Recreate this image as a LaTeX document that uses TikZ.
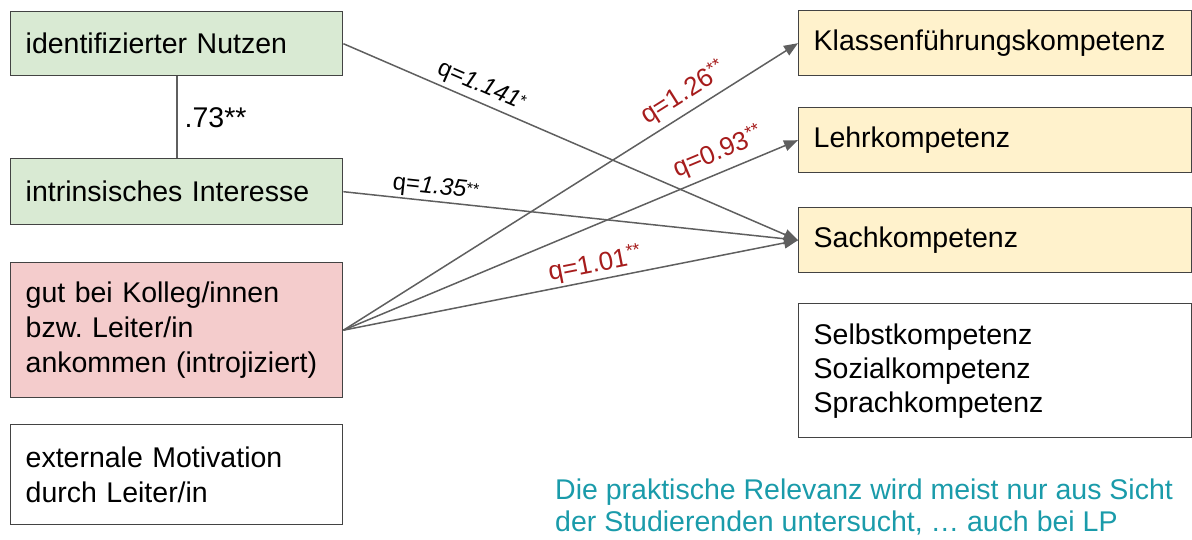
\documentclass[tikz,border=0pt]{standalone}
\usepackage{fontspec}
\setmainfont{Liberation Sans}
\usetikzlibrary{arrows.meta}
\frenchspacing
\definecolor{boxgreen}{HTML}{D9EAD3}
\definecolor{boxpink}{HTML}{F4CCCC}
\definecolor{boxyellow}{HTML}{FFF2CC}
\definecolor{bordergray}{HTML}{434343}
\definecolor{arrowgray}{HTML}{5F5F5F}
\definecolor{labelred}{HTML}{A61C1C}
\definecolor{noteteal}{HTML}{1A9BAA}
\newcommand{\rstars}[1]{\raisebox{0.3em}{\fontsize{18}{18}\selectfont #1}}
\newcommand{\bstars}[1]{\raisebox{0.15em}{\fontsize{16}{16}\selectfont #1}}
\tikzset{
  x=1pt, y=-1pt,
  leftbox/.style={draw=bordergray, line width=1.4pt, rectangle, anchor=north west,
    minimum width=332pt, text width=302pt, inner xsep=15pt, inner ysep=0pt,
    align=left, font=\fontsize{28.5}{35}\selectfont},
  rightbox/.style={draw=bordergray, line width=1.4pt, rectangle, anchor=north west,
    minimum width=393pt, text width=363pt, inner xsep=15pt, inner ysep=0pt,
    align=left, font=\fontsize{28.5}{34}\selectfont},
  conn/.style={draw=arrowgray, line width=1.5pt, -{Triangle[length=14pt,width=11pt]}},
  blacklab/.style={sloped, inner sep=0pt, font=\fontsize{24}{24}\selectfont, text=black},
  redlab/.style={sloped, inner sep=0pt, font=\fontsize{26}{26}\selectfont, text=labelred},
}
\begin{document}
\begin{tikzpicture}
\useasboundingbox (0,0) rectangle (1192,539);
% left column
\node[leftbox, fill=boxgreen, minimum height=64pt] (nutz) at (10,11) {identifizierter Nutzen};
\node[leftbox, fill=boxgreen, minimum height=66pt] (intr) at (10,158) {intrinsisches Interesse};
\node[leftbox, fill=boxpink, minimum height=135pt] (koll) at (10,262) {gut bei Kolleg/innen\\bzw. Leiter/in\\ankommen (introjiziert)};
\node[leftbox, fill=white, minimum height=100pt] (ext) at (10,424) {externale Motivation\\durch Leiter/in};
% right column
\node[rightbox, fill=boxyellow, minimum height=65pt] (klass) at (798,10) {Klassenführungskompetenz};
\node[rightbox, fill=boxyellow, minimum height=65pt] (lehr) at (798,107) {Lehrkompetenz};
\node[rightbox, fill=boxyellow, minimum height=65pt] (sach) at (798,207) {Sachkompetenz};
\node[rightbox, fill=white, minimum height=134pt] (rest) at (798,303) {Selbstkompetenz\\Sozialkompetenz\\Sprachkompetenz};
% correlation
\draw[draw=arrowgray, line width=2pt] (nutz.south) -- node[right=7pt, inner sep=0pt, font=\fontsize{28.5}{30}\selectfont] (r) {.73**} (intr.north);
% arrows
\draw[conn] (nutz.east) -- node[blacklab, pos=0.29, above=4pt] (l1) {q=\textit{1.141}\bstars{*}} (sach.west);
\draw[conn] (intr.east) -- node[blacklab, pos=0.2, above=2pt] (l2) {q=\textit{1.35}\bstars{**}} (sach.west);
\draw[conn] (koll.east) -- node[redlab, pos=0.77, above=5pt] (l3) {q=1.26\rstars{**}} (klass.west);
\draw[conn] (koll.east) -- node[redlab, pos=0.84, above=6pt] (l4) {q=0.93\rstars{**}} (lehr.west);
\draw[conn] (koll.east) -- node[redlab, pos=0.56, above=2pt] (l5) {q=1.01\rstars{**}} (sach.west);
% note
\node[anchor=west, align=left, inner sep=0pt, text=noteteal, font=\fontsize{28.5}{32}\selectfont] (note) at (555,507) {Die praktische Relevanz wird meist nur aus Sicht\\der Studierenden untersucht, \dots\ auch bei LP};
\end{tikzpicture}
\end{document}
